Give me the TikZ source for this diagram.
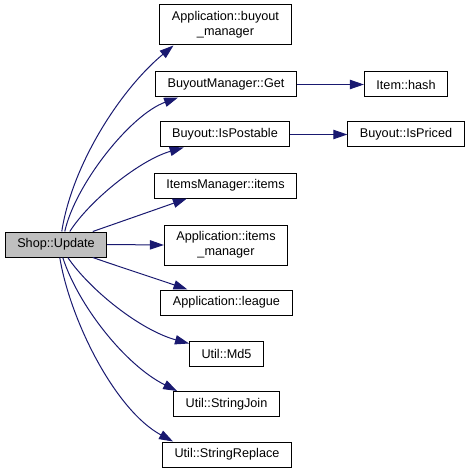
\documentclass[tikz,border=0pt]{standalone}
\usepackage{fontspec}
\setmainfont{Liberation Sans}
\usetikzlibrary{calc,arrows.meta}
\definecolor{EdgeBlue}{RGB}{25,25,112}
\definecolor{CallerGray}{RGB}{191,191,191}
\tikzset{
  fn/.style={draw=black,line width=0.75pt,fill=white,inner xsep=9pt,inner ysep=0pt,
    minimum height=18.75pt,font=\fontsize{9.5}{11.25}\selectfont,align=center},
  fntwo/.style={fn,minimum height=30pt},
  caller/.style={fn,fill=CallerGray},
  call/.style={draw=EdgeBlue,line width=0.75pt,-{Triangle[length=10.5pt,width=7pt]}},
}

\begin{document}
\begin{tikzpicture}[x=0.75pt,y=-0.75pt]
\useasboundingbox (0,0) rectangle (471,474);
\node[caller] (update) at (56,244.5) {Shop::Update};
\node[fntwo] (bmgr) at (225.5,25) {Application::buyout\\\_manager};
\node[fn] (get) at (226,84.5) {BuyoutManager::Get};
\node[fn] (hash) at (406,84.5) {Item::hash};
\node[fn] (postable) at (225,134.5) {Buyout::IsPostable};
\node[fn] (priced) at (406,134.5) {Buyout::IsPriced};
\node[fn] (items) at (225.5,185.5) {ItemsManager::items};
\node[fntwo] (imgr) at (226,245) {Application::items\\\_manager};
\node[fn] (league) at (226.5,302.5) {Application::league};
\node[fn] (md5) at (226.5,353.5) {Util::Md5};
\node[fn] (join) at (226.5,404) {Util::StringJoin};
\node[fn] (replace) at (227,454.5) {Util::StringReplace};
\draw[call] ($(update.north west)+(57,0)$) .. controls (72,165) and (120,90) .. ($(bmgr.south west)+(14,0)$);
\draw[call] ($(update.north west)+(60,0)$) .. controls (75,185) and (130,115) .. ($(get.south west)+(23,0)$);
\draw[call] ($(update.north west)+(65,0)$) .. controls (90,200) and (140,160) .. ($(postable.south west)+(24,0)$);
\draw[call] ($(update.north west)+(88,0)$) .. controls (120,222) and (160,208) .. ($(items.south west)+(33,0)$);
\draw[call] (update.east) -- (imgr.west);
\draw[call] ($(update.south west)+(88,0)$) .. controls (120,267) and (160,280) .. ($(league.north west)+(27,0)$);
\draw[call] ($(update.south west)+(63,0)$) .. controls (90,290) and (140,330) .. ($(md5.north west)+(0,3)$);
\draw[call] ($(update.south west)+(58,0)$) .. controls (78,305) and (125,365) .. ($(join.north west)+(4,0)$);
\draw[call] ($(update.south west)+(55,0)$) .. controls (70,320) and (115,410) .. ($(replace.north west)+(11,0)$);
\draw[call] (get.east) -- (hash.west);
\draw[call] (postable.east) -- (priced.west);
\end{tikzpicture}
\end{document}
